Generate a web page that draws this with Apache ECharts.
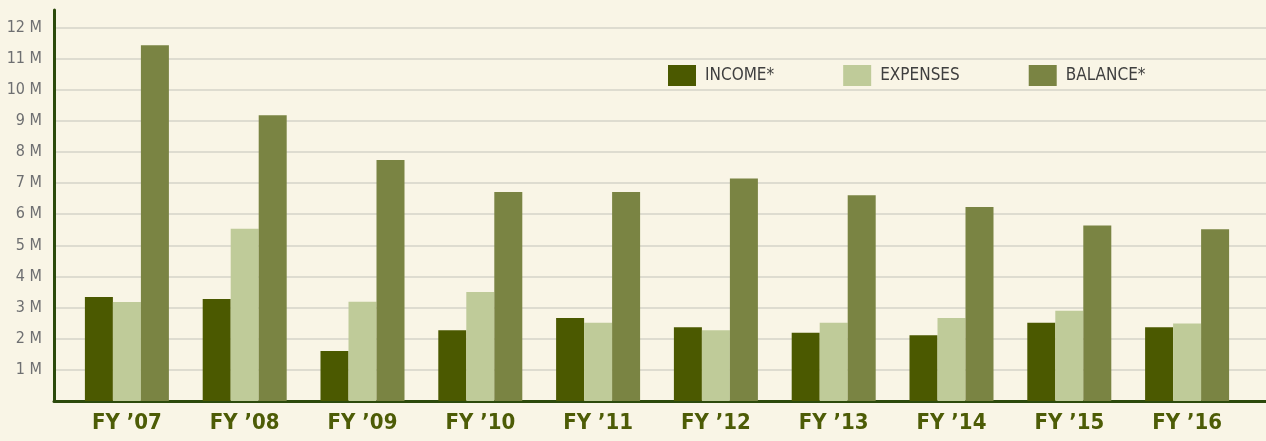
<!DOCTYPE html>
<html>
<head>
<meta charset="utf-8">
<script src="https://cdn.jsdelivr.net/npm/echarts@6/dist/echarts.min.js"></script>
<style>
  html, body { margin: 0; padding: 0; background: #f9f5e6; }
  #chart { width: 1266px; height: 441px; }
</style>
</head>
<body>
<div id="chart"></div>
<script>
/* ── Data (millions USD) ── */
const YEARS    = ['FY \u201907', 'FY \u201908', 'FY \u201909', 'FY \u201910', 'FY \u201911', 'FY \u201912', 'FY \u201913', 'FY \u201914', 'FY \u201915', 'FY \u201916'];
const INCOME   = [3.34, 3.28, 1.61, 2.27, 2.67, 2.37, 2.19, 2.11, 2.51, 2.37];
const EXPENSES = [3.18, 5.53, 3.19, 3.50, 2.51, 2.27, 2.51, 2.67, 2.90, 2.49];
const BALANCE  = [11.43, 9.18, 7.74, 6.71, 6.71, 7.15, 6.61, 6.23, 5.64, 5.52];
const Y_TICKS  = [0, 1, 2, 3, 4, 5, 6, 7, 8, 9, 10, 11, 12];

/* ── Color constants ── */
const C_INCOME   = '#4b5900';
const C_EXPENSES = '#bfcb99';
const C_BALANCE  = '#7a8443';
const C_AXIS     = '#2c4a0c';
const C_GRID     = '#d5d3c9';
const FONT       = '"DejaVu Sans Condensed", "Liberation Sans Narrow", sans-serif';

const Y_MAX = 12.56;

const chart = echarts.init(document.getElementById('chart'), null, { renderer: 'canvas' });

const barSeries = (name, data, color) => ({
    name,
    type: 'bar',
    xAxisIndex: 1,
    yAxisIndex: 1,
    data,
    barWidth: 28,
    barGap: '0%',
    itemStyle: { color },
});

chart.setOption({
    animation: false,
    backgroundColor: '#f9f5e6',
    textStyle: { fontFamily: FONT },
    legend: {
        left: 663,
        top: 60,
        itemWidth: 28,
        itemHeight: 21,
        itemGap: 69,
        icon: 'rect',
        textStyle: { fontFamily: FONT, fontSize: 17, color: '#3f3f3f', padding: [0, 0, 0, 4] },
        data: ['INCOME*', 'EXPENSES', 'BALANCE*'],
    },
    grid: [
        // background frame: axis lines + gridlines across the full width
        { left: 54, right: 0, top: 10, bottom: 40 },
        // data area: bars + year labels
        { left: 68, right: 20, top: 10, bottom: 40 },
    ],
    xAxis: [
        {
            gridIndex: 0,
            type: 'value',
            min: 0,
            max: 1,
            axisLine: { show: true, onZero: false, lineStyle: { color: C_AXIS, width: 3 } },
            axisTick: { show: false },
            axisLabel: { show: false },
            splitLine: { show: false },
        },
        {
            gridIndex: 1,
            type: 'category',
            data: YEARS,
            axisLine: { show: false },
            axisTick: { show: false },
            axisLabel: {
                margin: 11,
                fontFamily: FONT,
                fontSize: 22,
                fontWeight: 'bold',
                color: '#4d5c06',
            },
        },
    ],
    yAxis: [
        {
            gridIndex: 0,
            type: 'value',
            min: 0,
            max: Y_MAX,
            interval: 1,
            axisLine: { show: true, lineStyle: { color: C_AXIS, width: 3 } },
            axisTick: { show: false },
            axisLabel: {
                margin: 12,
                fontFamily: FONT,
                fontSize: 16,
                color: '#6e6f71',
                formatter: (v) => (Y_TICKS.includes(v) && v > 0 ? `${v} M` : ''),
            },
            splitLine: { show: true, showMinLine: false, showMaxLine: false, lineStyle: { color: C_GRID, width: 1.5 } },
        },
        {
            gridIndex: 1,
            type: 'value',
            min: 0,
            max: Y_MAX,
            show: false,
        },
    ],
    series: [
        barSeries('INCOME*', INCOME, C_INCOME),
        barSeries('EXPENSES', EXPENSES, C_EXPENSES),
        barSeries('BALANCE*', BALANCE, C_BALANCE),
    ],
});
</script>
</body>
</html>
